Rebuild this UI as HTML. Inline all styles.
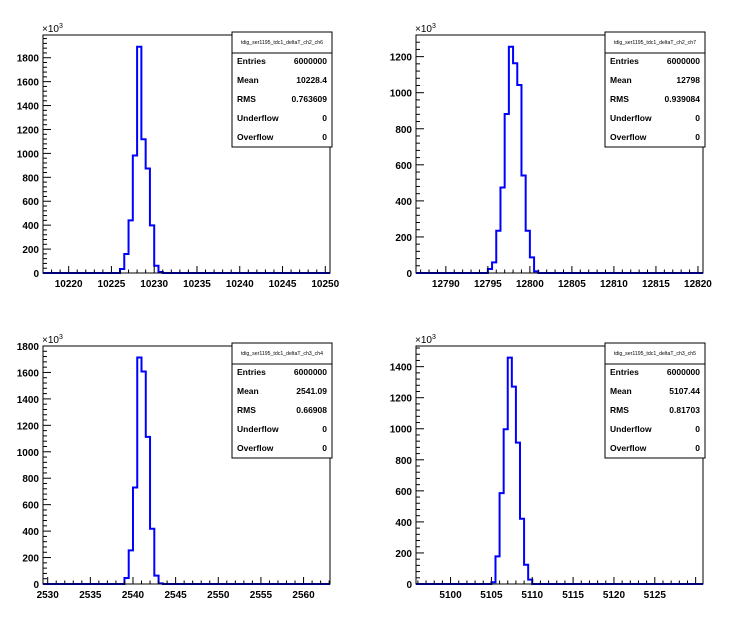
<!DOCTYPE html>
<html><head><meta charset="utf-8">
<style>
body{margin:0;background:#fff;}
svg{display:block;font-family:"Liberation Sans",Arial,sans-serif;}
</style></head>
<body>
<svg id="c" width="746" height="622" viewBox="0 0 746 622"></svg>
<script>
// Panel 1 data
const p1Start = 10226;
const p1Values = [33,159,440,982,1892,1118,874,398,61,8];
const p1XTicks = [10220,10225,10230,10235,10240,10245,10250];
const p1YTicks = [0,200,400,600,800,1000,1200,1400,1600,1800];
const p1Stats = ["6000000","10228.4","0.763609","0","0"];
// Panel 2 data
const p2Start = 12795;
const p2Values = [22,59,234,474,882,1255,1163,1043,541,234,87,9];
const p2XTicks = [12790,12795,12800,12805,12810,12815,12820];
const p2YTicks = [0,200,400,600,800,1000,1200];
const p2Stats = ["6000000","12798","0.939084","0","0"];
// Panel 3 data
const p3Start = 2539;
const p3Values = [45,254,730,1713,1607,1113,418,63,5];
const p3XTicks = [2530,2535,2540,2545,2550,2555,2560];
const p3YTicks = [0,200,400,600,800,1000,1200,1400,1600,1800];
const p3Stats = ["6000000","2541.09","0.66908","0","0"];
// Panel 4 data
const p4Start = 5105;
const p4Values = [11,178,585,997,1458,1271,911,420,124,28];
const p4XTicks = [5100,5105,5110,5115,5120,5125];
const p4YTicks = [0,200,400,600,800,1000,1200,1400];
const p4Stats = ["6000000","5107.44","0.81703","0","0"];

const NS="http://www.w3.org/2000/svg";
const svg=document.getElementById('c');
function mk(tag,attrs,parent){const e=document.createElementNS(NS,tag);for(const k in attrs)e.setAttribute(k,attrs[k]);(parent||svg).appendChild(e);return e;}

function panel(id,L,R,T,B,xmin,xmax,ymax,start,vals,xt,yt,title,stats){
  const g=mk('g',{});
  
  
  const sx=v=>L+(v-xmin)/(xmax-xmin)*(R-L);
  const sy=v=>B-v/ymax*(B-T);
  const bw=0.5;
  // histogram path
  let d='M'+L+','+B+' L'+sx(start)+','+B;
  vals.forEach((v,i)=>{const x0=sx(start+i*bw),x1=sx(start+(i+1)*bw);d+=' L'+x0+','+sy(v)+' L'+x1+','+sy(v);});
  d+=' L'+sx(start+vals.length*bw)+','+B+' L'+R+','+B;
  const p=mk('path',{d:d,fill:'none',stroke:'#0000ff','stroke-width':2},g);
  
  
  // frame
  const fr=mk('rect',{x:L,y:T,width:R-L,height:B-T,fill:'none',stroke:'#000','stroke-width':1},g);
  
  
  // x ticks (major every 5, minor every 1)
  for(let v=Math.ceil(xmin);v<=xmax;v++){
    const x=sx(v);const major=(v%5===0);
    mk('line',{x1:x,x2:x,y1:B,y2:B-(major?7:3.5),stroke:'#000','stroke-width':1},g);
  }
  xt.forEach(v=>{
    const t=mk('text',{x:sx(v),y:B+14,'text-anchor':'middle','font-size':10,'font-weight':'bold'},g);
    t.textContent=v;
    
    
  });
  // y ticks
  for(let v=0;v<=ymax;v+=40){
    const y=sy(v);const major=(v%200===0);
    mk('line',{x1:L,x2:L+(major?8:4),y1:y,y2:y,stroke:'#000','stroke-width':1},g);
  }
  yt.forEach(v=>{
    const t=mk('text',{x:L-4,y:sy(v)+4,'text-anchor':'end','font-size':10,'font-weight':'bold'},g);
    t.textContent=v;
    
    
  });
  const ex=mk('text',{x:L-1,y:T-3,'font-size':10},g);
  ex.innerHTML='×10<tspan dy="-4" font-size="7">3</tspan>';
  
  
  // stats box
  const bx=L+189,bw2=100,by=T-3,bh=115;
  const sb=mk('g',{},g);
  
  
  mk('rect',{x:bx,y:by,width:bw2,height:bh,fill:'#fff',stroke:'#000','stroke-width':1},sb);
  mk('line',{x1:bx,x2:bx+bw2,y1:by+21,y2:by+21,stroke:'#000','stroke-width':1},sb);
  const tt=mk('text',{x:bx+bw2/2,y:by+12,'text-anchor':'middle','font-size':5.2},sb);
  tt.textContent=title;
  
  
  const labels=['Entries','Mean','RMS','Underflow','Overflow'];
  labels.forEach((l,i)=>{
    const y=by+32+i*19;
    const a=mk('text',{x:bx+5,y:y,'font-size':8.5,'font-weight':'bold'},sb);
    a.textContent=l;
    
    
    const b=mk('text',{x:bx+bw2-5,y:y,'font-size':8.5,'font-weight':'bold','text-anchor':'end'},sb);
    b.textContent=stats[i];
    
    
  });
}
panel('panel-ch2-ch6',43,330,35,273,10217,10250.55,1990,p1Start,p1Values,p1XTicks,p1YTicks,'tdig_ser1195_tdc1_deltaT_ch2_ch6',p1Stats);
panel('panel-ch2-ch7',416,703,35,273,12786.45,12820.6,1320,p2Start,p2Values,p2XTicks,p2YTicks,'tdig_ser1195_tdc1_deltaT_ch2_ch7',p2Stats);
panel('panel-ch3-ch4',43,330,346,584,2529.45,2563.1,1800,p3Start,p3Values,p3XTicks,p3YTicks,'tdig_ser1195_tdc1_deltaT_ch3_ch4',p3Stats);
panel('panel-ch3-ch5',416,703,346,584,5095.77,5130.9,1533,p4Start,p4Values,p4XTicks,p4YTicks,'tdig_ser1195_tdc1_deltaT_ch3_ch5',p4Stats);
</script>
</body></html>
